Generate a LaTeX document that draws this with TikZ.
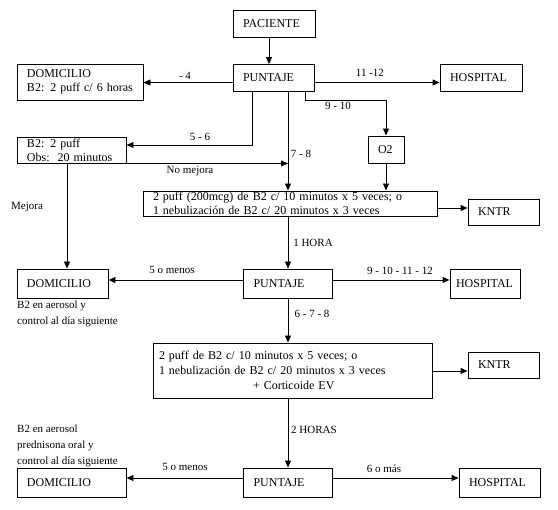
\documentclass[tikz,border=0pt]{standalone}
\usepackage{fontspec}
\setmainfont{Liberation Serif}
\usetikzlibrary{arrows.meta}
\begin{document}
\begin{tikzpicture}[x=1pt,y=-1pt,
  box/.style={draw, rectangle, line width=0.9pt, inner xsep=10pt, inner ysep=0pt, align=left, font=\fontsize{12}{14}\selectfont},
  arr/.style={line width=0.9pt, -{Triangle[length=7pt,width=6pt]}},
  lbl/.style={font=\fontsize{11}{13}\selectfont, inner sep=0pt},
  note/.style={font=\fontsize{11}{16}\selectfont, inner sep=0pt, align=left, anchor=west}]
\useasboundingbox (0,0) rectangle (558,510);
\node[box, text width=62pt, minimum height=27pt] (Paciente) at (274, 23.5) {PACIENTE};
\node[box, text width=61pt, minimum height=27pt] (Puntaje_1) at (273.5, 78) {PUNTAJE};
\node[box, text width=106pt, minimum height=36pt] (Domicilio_1) at (80, 82) {DOMICILIO\\B2: 2 puff c/ 6 horas};
\node[box, text width=62pt, minimum height=27pt] (Hospital_1) at (481, 78) {HOSPITAL};
\node[box, text width=89pt, minimum height=26pt] (Obs) at (71.5, 150) {B2: 2 puff\\Obs:\ \ 20 minutos};
\node[box, text width=16pt, minimum height=27pt] (O2) at (386, 149.5) {O2};
\node[box, text width=274pt, minimum height=25pt] (Tratamiento_1) at (290, 203.5) {2 puff (200mcg) de B2 c/ 10 minutos x 5 veces; o\\1 nebulización de B2 c/ 20 minutos x 3 veces};
\node[box, text width=51pt, minimum height=26pt] (KNTR_1) at (503.5, 212) {KNTR};
\node[box, text width=69pt, minimum height=29pt] (Puntaje_2) at (288, 283.5) {PUNTAJE};
\node[box, text width=71pt, minimum height=29pt] (Domicilio_2) at (62.5, 283.5) {DOMICILIO};
\node[box, inner xsep=6pt, text width=58pt, minimum height=29pt] (Hospital_2) at (485, 283.5) {HOSPITAL};
\node[box, inner xsep=6pt, text width=267pt, minimum height=55pt, font=\fontsize{12}{15}\selectfont] (Tratamiento_2) at (292.5, 370.5) {2 puff de B2 c/ 10 minutos x 5 veces; o\\1 nebulización de B2 c/ 20 minutos x 3 veces\\\hspace*{94pt}+ Corticoide EV};
\node[box, text width=51pt, minimum height=26pt] (KNTR_2) at (503.5, 365) {KNTR};
\node[box, text width=69pt, minimum height=29pt] (Puntaje_3) at (288, 482.5) {PUNTAJE};
\node[box, text width=89pt, minimum height=29pt] (Domicilio_3) at (71.5, 482.5) {DOMICILIO};
\node[box, text width=61pt, minimum height=29pt] (Hospital_3) at (499.5, 482.5) {HOSPITAL};
\node[note] (Nota_2) at (17, 313.5) {B2 en aerosol y\\control al día siguiente};
\node[note] (Nota_3) at (17, 446) {B2 en aerosol\\prednisona oral y\\control al día siguiente};
\coordinate (row_1) at (0, 82.5);
\coordinate (row_k1) at (0, 208);
\coordinate (row_2) at (0, 280);
\coordinate (row_k2) at (0, 371);
\coordinate (row_3) at (0, 478);
\coordinate (col_a) at (269, 0);
\coordinate (col_56) at (252, 0);
\coordinate (col_78) at (288, 0);
\coordinate (col_910) at (305, 0);
\coordinate (col_mejora) at (67, 0);
\draw[arr] (col_a |- Paciente.south) -- (col_a |- Puntaje_1.north);
\draw[arr] (row_1 -| Puntaje_1.west) -- (row_1 -| Domicilio_1.east);
\draw[arr] (row_1 -| Puntaje_1.east) -- (row_1 -| Hospital_1.west);
\draw[arr] (col_56 |- Puntaje_1.south) |- ([yshift=5pt]Obs.east);
\draw[arr] (col_78 |- Puntaje_1.south) -- (col_78 |- Tratamiento_1.north);
\draw[arr] (Obs.south east) -- (col_78 |- Obs.south east);
\draw[arr] (col_910 |- Puntaje_1.south) -- ++(0,9) -| (O2.north);
\draw[arr] (O2.south) -- (O2.south |- Tratamiento_1.north);
\draw[arr] (row_k1 -| Tratamiento_1.east) -- (row_k1 -| KNTR_1.west);
\draw[arr] (col_78 |- Tratamiento_1.south) -- (col_78 |- Puntaje_2.north);
\draw[arr] (row_2 -| Puntaje_2.west) -- (row_2 -| Domicilio_2.east);
\draw[arr] (row_2 -| Puntaje_2.east) -- (row_2 -| Hospital_2.west);
\draw[arr] (col_mejora |- Obs.south) -- (col_mejora |- Domicilio_2.north);
\draw[arr] (col_78 |- Puntaje_2.south) -- (col_78 |- Tratamiento_2.north);
\draw[arr] (row_k2 -| Tratamiento_2.east) -- (row_k2 -| KNTR_2.west);
\draw[arr] (col_78 |- Tratamiento_2.south) -- (col_78 |- Puntaje_3.north);
\draw[arr] (row_3 -| Puntaje_3.west) -- (row_3 -| Domicilio_3.east);
\draw[arr] (row_3 -| Puntaje_3.east) -- (row_3 -| Hospital_3.west);
\node[lbl] (lbl_4) at (185, 76) {- 4};
\node[lbl] (lbl_1112) at (370, 73) {11 -12};
\node[lbl] (lbl_56) at (200, 137) {5 - 6};
\node[lbl] (lbl_910) at (338, 106) {9 - 10};
\node[lbl] (lbl_78) at (301, 154) {7 - 8};
\node[lbl] (lbl_no_mejora) at (190, 171) {No mejora};
\node[lbl] (lbl_mejora) at (27, 207) {Mejora};
\node[lbl] (lbl_1hora) at (313, 243) {1 HORA};
\node[lbl] (lbl_5menos_2) at (172, 270) {5 o menos};
\node[lbl] (lbl_9a12) at (400, 271) {9 - 10 - 11 - 12};
\node[lbl] (lbl_678) at (312, 314) {6 - 7 - 8};
\node[lbl] (lbl_2horas) at (314, 430) {2 HORAS};
\node[lbl] (lbl_5menos_3) at (185, 467) {5 o menos};
\node[lbl] (lbl_6mas) at (384, 469) {6 o más};
\end{tikzpicture}
\end{document}
